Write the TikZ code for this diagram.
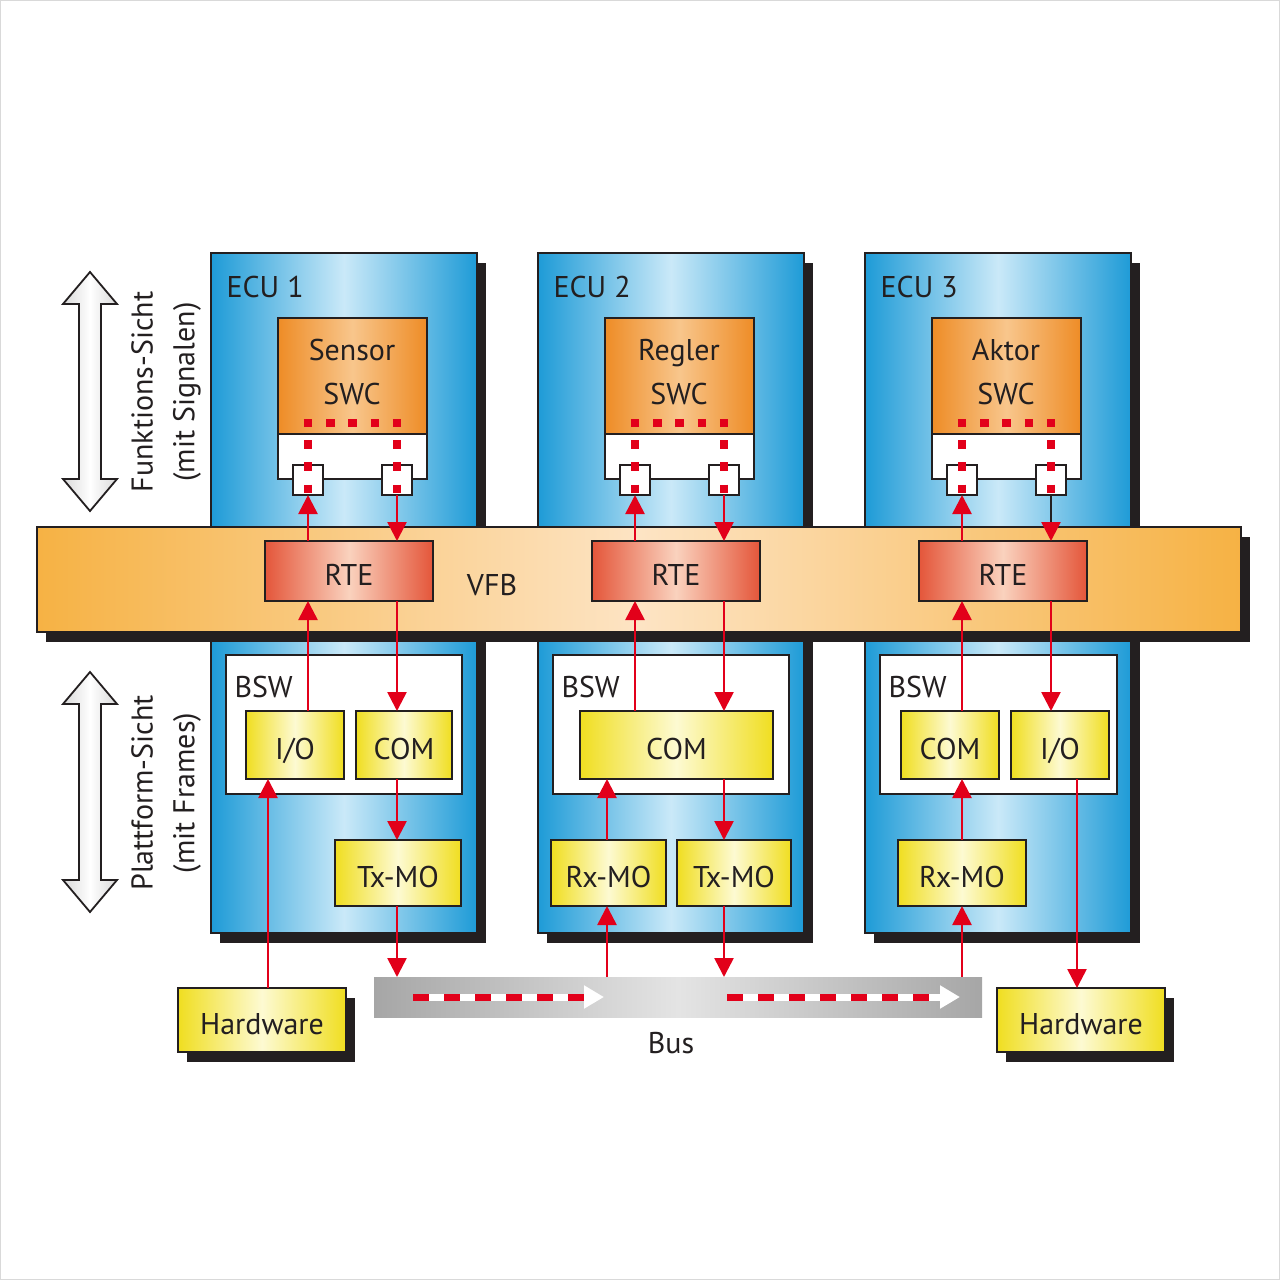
\documentclass[tikz,border=0pt]{standalone}
\usepackage{fontspec}
\setmainfont{PT Sans}
\usetikzlibrary{arrows.meta,shadows}

\definecolor{ink}{RGB}{35,31,32}
\definecolor{ecublue}{RGB}{30,155,215}
\definecolor{ecupale}{RGB}{202,233,248}
\definecolor{vfborange}{RGB}{246,178,68}
\definecolor{vfbpale}{RGB}{253,228,196}
\definecolor{rtered}{RGB}{228,86,58}
\definecolor{rtepale}{RGB}{250,210,190}
\definecolor{swcorange}{RGB}{238,140,38}
\definecolor{swcpale}{RGB}{248,198,140}
\definecolor{modyellow}{RGB}{240,222,32}
\definecolor{modpale}{RGB}{253,250,210}
\definecolor{busgray}{RGB}{166,166,166}
\definecolor{buspale}{RGB}{228,228,228}
\definecolor{sigred}{RGB}{226,0,26}

\tikzset{
  box/.style={draw=ink,line width=1.8pt,inner sep=0pt,outer sep=0pt,anchor=north west,
    text height=29pt,text depth=0pt},
  hardshadow/.style={general shadow={fill=ink,shadow xshift=9pt,shadow yshift=-10pt}},
  ecubox/.style={box,hardshadow,left color=ecublue,right color=ecublue,middle color=ecupale},
  vfbbar/.style={box,hardshadow,left color=vfborange,right color=vfborange,middle color=vfbpale},
  rtebox/.style={box,left color=rtered,right color=rtered,middle color=rtepale},
  swcbox/.style={box,left color=swcorange,right color=swcorange,middle color=swcpale},
  portbar/.style={box,fill=white},
  port/.style={box,anchor=center,fill=white,minimum size=30pt},
  modbox/.style={box,left color=modyellow,right color=modyellow,middle color=modpale},
  bswbox/.style={box,fill=white},
  hwbox/.style={modbox,hardshadow},
  busbar/.style={box,draw=none,left color=busgray,right color=busgray,middle color=buspale},
  viewarrow/.style={draw=ink,line width=1.8pt,left color=gray!30,right color=gray!30,middle color=white},
  sig/.style={sigred,line width=2.6pt,-{Triangle[length=19pt,width=19pt,color=sigred]}},
  sigdots/.style={sigred,line width=8pt,dash pattern=on 8.5pt off 13.75pt},
  buswire/.style={white,line width=7pt,-{Triangle[length=20pt,width=22pt]}},
  busdash/.style={sigred,line width=7pt,dash pattern=on 16pt off 15pt},
}

\begin{document}
\begin{tikzpicture}[x=1pt,y=-1pt,font=\fontsize{30}{44}\selectfont,text=ink]
  \useasboundingbox (0,0) rectangle (1280,1280);
  \draw[gray!30,line width=1.2pt] (0.6,0.6) rectangle (1279.4,1279.4);

  % ---------- views on the left ----------
  \draw[viewarrow] (90,272) -- (117,304) -- (101,304) -- (101,479) -- (117,479)
    -- (90,511) -- (63,479) -- (79,479) -- (79,304) -- (63,304) -- cycle;
  \draw[viewarrow] (90,672) -- (117,704) -- (101,704) -- (101,880) -- (117,880)
    -- (90,912) -- (63,880) -- (79,880) -- (79,704) -- (63,704) -- cycle;
  \node[rotate=90] (fsicht) at (142,392) {Funktions-Sicht};
  \node[rotate=90] (fsig) at (187,392) {(mit Signalen)};
  \node[rotate=90] (psicht) at (142,793) {Plattform-Sicht};
  \node[rotate=90] (pframes) at (187,793) {(mit Frames)};

  % ---------- ECUs with their SWCs ----------
  \foreach \i/\swc in {1/Sensor,2/Regler,3/Aktor}{
    \pgfmathsetmacro\ox{327*(\i-1)}
    \node[ecubox,minimum width=266pt,minimum height=680pt] (ecu\i) at (211+\ox,253) {};
    \node[anchor=base west] (ecul\i) at (223+\ox,297) {ECU \i};
    % component and its two ports
    \node[swcbox,minimum width=149pt,minimum height=116pt] (swc\i) at (278+\ox,318) {};
    \node[portbar,minimum width=149pt,minimum height=45pt] (swcp\i) at (278+\ox,434) {};
    \node[port] (pa\i) at (308+\ox,480) {};
    \node[port] (pb\i) at (397+\ox,480) {};
    \node[align=center] (swct\i) at (352+\ox,372) {\swc\\SWC};
    % signal path inside
    \draw[sigdots] (303.75+\ox,423) -- (401.25+\ox,423);
    \draw[sigdots] (308+\ox,440) -- (308+\ox,496);
    \draw[sigdots] (397+\ox,440) -- (397+\ox,496);
  }

  % ---------- VFB ----------
  \node[vfbbar,minimum width=1204pt,minimum height=105pt] (vfb) at (37,527) {};
  \node (vfbl) at (492,585) {VFB};

  \foreach \i in {1,2,3}{
    \pgfmathsetmacro\ox{327*(\i-1)}
    \ifnum\i=3 \def\pbcol{ink}\else\def\pbcol{sigred}\fi
    \node[rtebox,minimum width=168pt,minimum height=60pt] (rte\i) at (265+\ox,541) {RTE};
    \draw[sig] (rte\i.north -| pa\i) -- (pa\i.south);
    \draw[sig,draw=\pbcol] (pb\i.south) -- (rte\i.north -| pb\i);
  }

  % ---------- basic software ----------
  % ECU 1
  \node[bswbox,minimum width=236pt,minimum height=139pt] (bsw1) at (226,655) {};
  \node[anchor=base west] (bswl1) at (231,697) {BSW};
  \node[modbox,minimum width=98pt,minimum height=68pt] (io1) at (246,711) {I/O};
  \node[modbox,minimum width=96pt,minimum height=68pt] (com1) at (356,711) {COM};
  \node[modbox,minimum width=126pt,minimum height=66pt] (tx1) at (335,840) {Tx-MO};
  % ECU 2
  \node[bswbox,minimum width=236pt,minimum height=139pt] (bsw2) at (553,655) {};
  \node[anchor=base west] (bswl2) at (558,697) {BSW};
  \node[modbox,minimum width=193pt,minimum height=68pt] (com2) at (580,711) {COM};
  \node[modbox,minimum width=115pt,minimum height=66pt] (rx2) at (551,840) {Rx-MO};
  \node[modbox,minimum width=114pt,minimum height=66pt] (tx2) at (677,840) {Tx-MO};
  % ECU 3
  \node[bswbox,minimum width=237pt,minimum height=139pt] (bsw3) at (880,655) {};
  \node[anchor=base west] (bswl3) at (885,697) {BSW};
  \node[modbox,minimum width=98pt,minimum height=68pt] (com3) at (901,711) {COM};
  \node[modbox,minimum width=98pt,minimum height=68pt] (io3) at (1011,711) {I/O};
  \node[modbox,minimum width=128pt,minimum height=66pt] (rx3) at (898,840) {Rx-MO};

  % ---------- bus and hardware ----------
  \node[busbar,minimum width=608pt,minimum height=40pt] (bus) at (374,977) {};
  \node (busl) at (671,1043) {Bus};
  \coordinate (bus1a) at (413,997);
  \coordinate (bus1b) at (604,997);
  \coordinate (bus2a) at (727,997);
  \coordinate (bus2b) at (960,997);
  \draw[buswire] (bus1a) -- (bus1b);
  \draw[busdash] (bus1a) -- ([xshift=-20pt]bus1b);
  \draw[buswire] (bus2a) -- (bus2b);
  \draw[busdash] (bus2a) -- ([xshift=-20pt]bus2b);

  \node[hwbox,minimum width=168pt,minimum height=64pt] (hw1) at (178,988) {Hardware};
  \node[hwbox,minimum width=168pt,minimum height=64pt] (hw2) at (997,988) {Hardware};

  % ---------- signal flow ----------
  \draw[sig] (io1.north -| pa1) -- (rte1.south -| pa1);
  \draw[sig] (rte1.south -| pb1) -- (com1.north -| pb1);
  \draw[sig] (com1.south -| pb1) -- (tx1.north -| pb1);
  \draw[sig] (tx1.south -| pb1) -- (bus.north -| pb1);
  \draw[sig] (268,0 |- hw1.north) -- (268,0 |- io1.south);

  \draw[sig] (com2.north -| pa2) -- (rte2.south -| pa2);
  \draw[sig] (rte2.south -| pb2) -- (com2.north -| pb2);
  \draw[sig] (rx2.north -| 607,0) -- (com2.south -| 607,0);
  \draw[sig] (com2.south -| pb2) -- (tx2.north -| pb2);
  \draw[sig] (bus.north -| 607,0) -- (rx2.south -| 607,0);
  \draw[sig] (tx2.south -| pb2) -- (bus.north -| pb2);

  \draw[sig] (com3.north -| pa3) -- (rte3.south -| pa3);
  \draw[sig] (rte3.south -| pb3) -- (io3.north -| pb3);
  \draw[sig] (rx3.north -| pa3) -- (com3.south -| pa3);
  \draw[sig] (bus.north -| pa3) -- (rx3.south -| pa3);
  \draw[sig] (1077,0 |- io3.south) -- (1077,0 |- hw2.north);
\end{tikzpicture}
\end{document}
